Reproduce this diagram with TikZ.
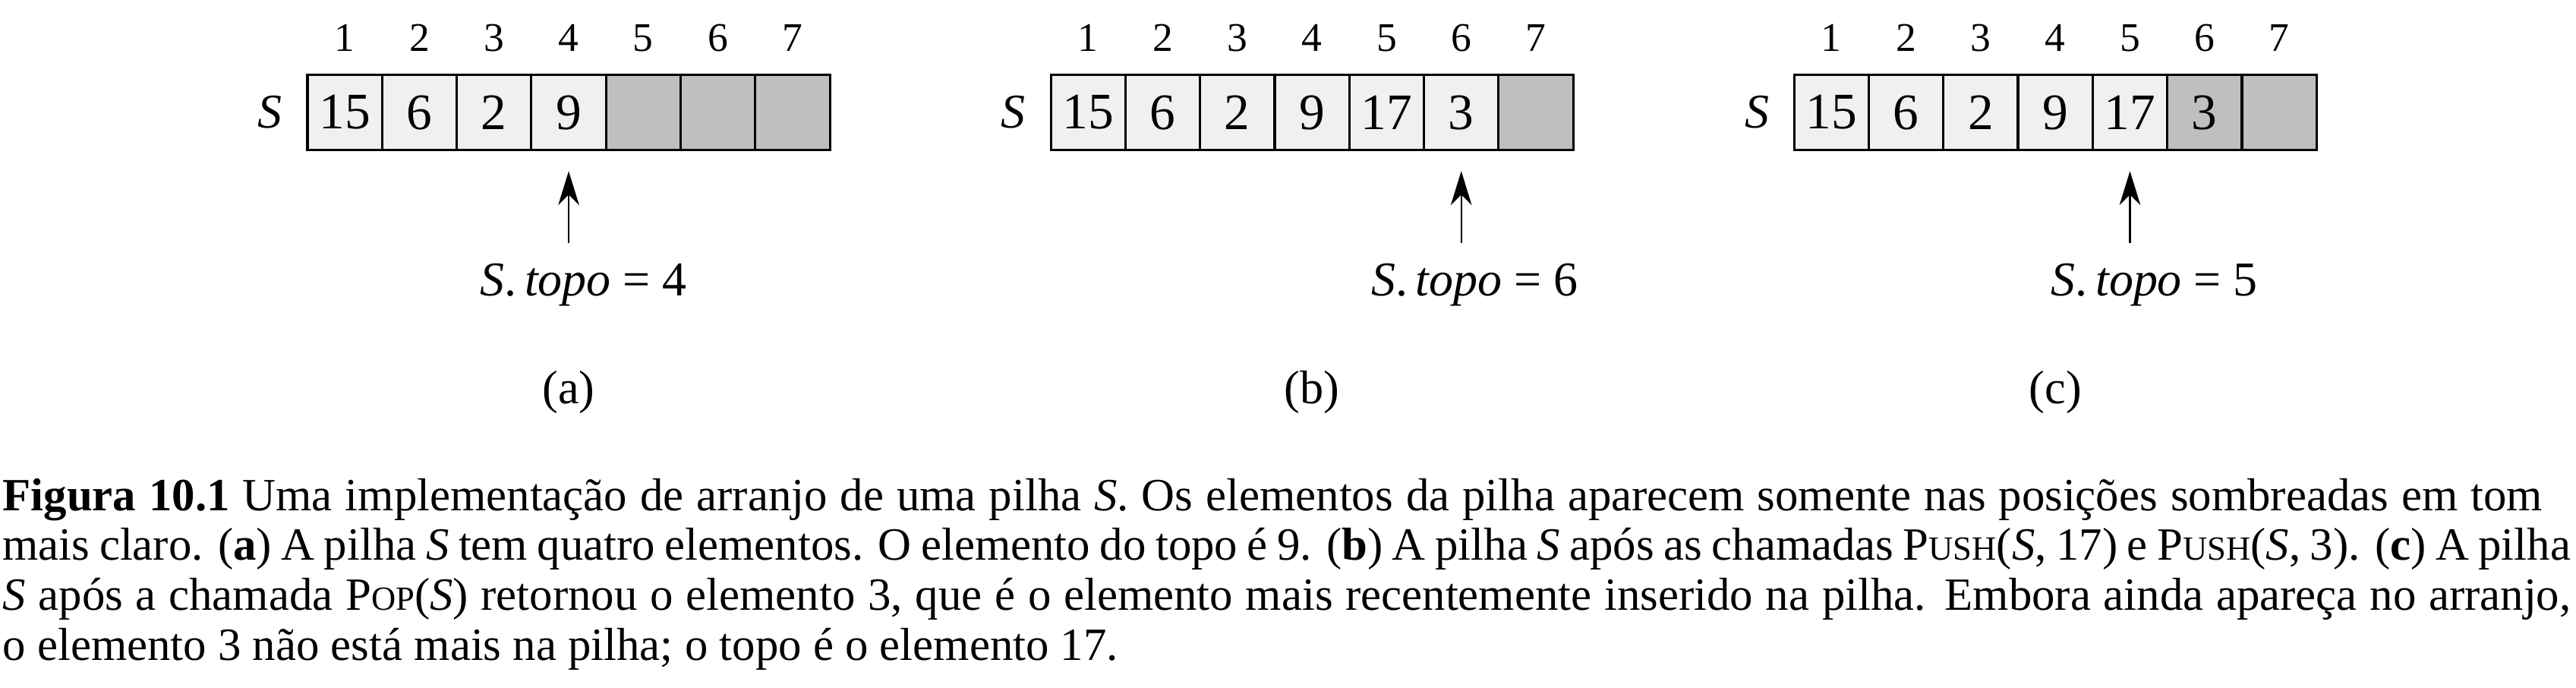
\documentclass[tikz,border=0pt]{standalone}
\usepackage{fontspec}
\setmainfont{Liberation Serif}
\usetikzlibrary{arrows.meta}
\definecolor{cellon}{gray}{0.94}
\definecolor{celloff}{gray}{0.75}
\newcommand{\fakesc}[2]{#1{\fontsize{12.9}{12.9}\selectfont #2}}
\tikzset{
  stk/.style={minimum size=1cm,inner sep=0pt,draw,line width=0.9pt,fill=cellon,font=\fontsize{19.5}{19.5}\selectfont},
  stkfree/.style={stk,fill=celloff},
  idx/.style={font=\fontsize{15.5}{15.5}\selectfont},
  arrname/.style={font=\fontsize{18.5}{18.5}\selectfont\itshape},
  toplabel/.style={anchor=base west,font=\fontsize{18.5}{18.5}\selectfont},
  sublabel/.style={font=\fontsize{18}{18}\selectfont},
  ptr/.style={-{Stealth[length=13pt,width=8pt,inset=4pt]},line width=0.6pt,shorten >=0.27cm},
  capline/.style={anchor=base west,inner sep=0pt,font=\fontsize{17.6}{19}\selectfont}
}
\begin{document}
\begin{tikzpicture}
\useasboundingbox (-4.62,1.506) rectangle (29.897,-7.701);

% (a)
\begin{scope}
\node[arrname] (sa) at (-1,0) {S};
\node[stk] (a1) at (0,0) {15};
\node[stk] (a2) at (1,0) {6};
\node[stk] (a3) at (2,0) {2};
\node[stk] (a4) at (3,0) {9};
\node[stkfree] (a5) at (4,0) {};
\node[stkfree] (a6) at (5,0) {};
\node[stkfree] (a7) at (6,0) {};

\node[idx] at (0,1) {1};
\node[idx] at (1,1) {2};
\node[idx] at (2,1) {3};
\node[idx] at (3,1) {4};
\node[idx] at (4,1) {5};
\node[idx] at (5,1) {6};
\node[idx] at (6,1) {7};

\coordinate (pa) at (3,-1.75);
\draw[ptr] (pa) -- (a4);
\node[toplabel] (ta) at (1.69,-2.46) {\textit{S}.\,\textit{topo} = 4};
\node[sublabel] (la) at (3,-3.75) {(a)};
\end{scope}

% (b)
\begin{scope}[xshift=9.96cm]
\node[arrname] (sb) at (-1,0) {S};
\node[stk] (b1) at (0,0) {15};
\node[stk] (b2) at (1,0) {6};
\node[stk] (b3) at (2,0) {2};
\node[stk] (b4) at (3,0) {9};
\node[stk] (b5) at (4,0) {17};
\node[stk] (b6) at (5,0) {3};
\node[stkfree] (b7) at (6,0) {};

\node[idx] at (0,1) {1};
\node[idx] at (1,1) {2};
\node[idx] at (2,1) {3};
\node[idx] at (3,1) {4};
\node[idx] at (4,1) {5};
\node[idx] at (5,1) {6};
\node[idx] at (6,1) {7};

\coordinate (pb) at (5,-1.75);
\draw[ptr] (pb) -- (b6);
\node[toplabel] (tb) at (3.67,-2.46) {\textit{S}.\,\textit{topo} = 6};
\node[sublabel] (lb) at (3,-3.75) {(b)};
\end{scope}

% (c)
\begin{scope}[xshift=19.92cm]
\node[arrname] (sc) at (-1,0) {S};
\node[stk] (c1) at (0,0) {15};
\node[stk] (c2) at (1,0) {6};
\node[stk] (c3) at (2,0) {2};
\node[stk] (c4) at (3,0) {9};
\node[stk] (c5) at (4,0) {17};
\node[stkfree] (c6) at (5,0) {3};
\node[stkfree] (c7) at (6,0) {};

\node[idx] at (0,1) {1};
\node[idx] at (1,1) {2};
\node[idx] at (2,1) {3};
\node[idx] at (3,1) {4};
\node[idx] at (4,1) {5};
\node[idx] at (5,1) {6};
\node[idx] at (6,1) {7};

\coordinate (pc) at (4,-1.75);
\draw[ptr] (pc) -- (c5);
\node[toplabel] (tc) at (2.82,-2.46) {\textit{S}.\,\textit{topo} = 5};
\node[sublabel] (lc) at (3,-3.75) {(c)};
\end{scope}

% legenda
\node[capline] (cap1) at (-4.59,-5.33) {\makebox[34.03cm][s]{\textbf{Figura 10.1} Uma implementação de arranjo de uma pilha \textit{S}. Os elementos da pilha aparecem somente nas posições sombreadas em tom}};
\node[capline] (cap2) at (-4.59,-6.00) {\makebox[34.41cm][s]{mais claro. (\textbf{a}) A pilha \textit{S} tem quatro elementos. O elemento do topo é 9. (\textbf{b}) A pilha \textit{S} após as chamadas \fakesc{P}{USH}(\textit{S}, 17) e \fakesc{P}{USH}(\textit{S}, 3). (\textbf{c}) A pilha}};
\node[capline] (cap3) at (-4.59,-6.67) {\makebox[34.41cm][s]{\textit{S} após a chamada \fakesc{P}{OP}(\textit{S}) retornou o elemento 3, que é o elemento mais recentemente inserido na pilha. Embora ainda apareça no arranjo,}};
\node[capline] (cap4) at (-4.59,-7.34) {o elemento 3 não está mais na pilha; o topo é o elemento 17.};
\end{tikzpicture}
\end{document}
